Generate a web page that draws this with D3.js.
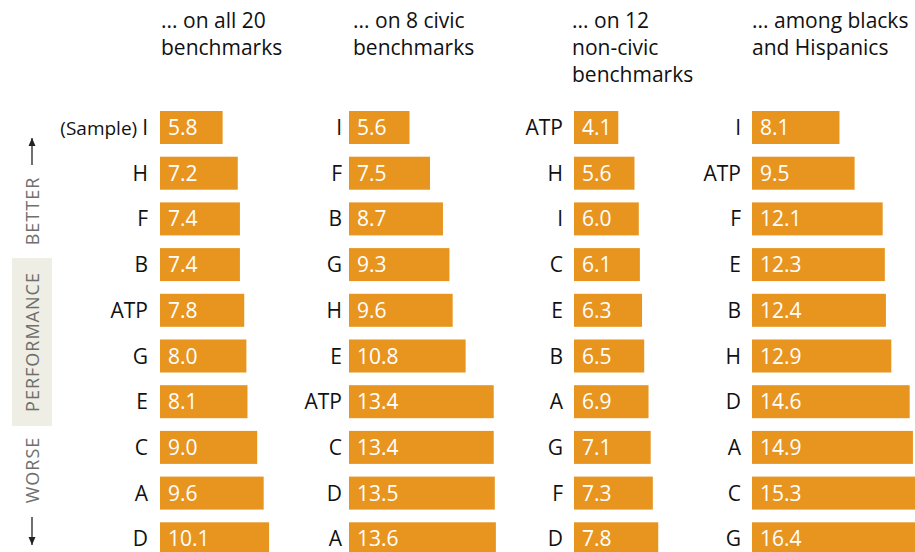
<!DOCTYPE html>
<html>
<head>
<meta charset="utf-8">
<script src="https://cdn.jsdelivr.net/npm/d3@7/dist/d3.min.js"></script>
<style>
  html, body { margin: 0; padding: 0; background: #fff; }
  svg { display: block; }
  text { font-family: "Open Sans", "Liberation Sans", sans-serif; }
</style>
</head>
<body>
<svg id="chart" width="915" height="552"></svg>
<script>
// ---- data ----
const titles = [
  ["... on all 20", "benchmarks"],
  ["... on 8 civic", "benchmarks"],
  ["... on 12", "non-civic", "benchmarks"],
  ["... among blacks", "and Hispanics"]
];
const labelsAll20   = ["I", "H", "F", "B", "ATP", "G", "E", "C", "A", "D"];
const valuesAll20   = [5.8, 7.2, 7.4, 7.4, 7.8, 8.0, 8.1, 9.0, 9.6, 10.1];
const labelsCivic   = ["I", "F", "B", "G", "H", "E", "ATP", "C", "D", "A"];
const valuesCivic   = [5.6, 7.5, 8.7, 9.3, 9.6, 10.8, 13.4, 13.4, 13.5, 13.6];
const labelsNonCivic = ["ATP", "H", "I", "C", "E", "B", "A", "G", "F", "D"];
const valuesNonCivic = [4.1, 5.6, 6.0, 6.1, 6.3, 6.5, 6.9, 7.1, 7.3, 7.8];
const labelsBlackHisp = ["I", "ATP", "F", "E", "B", "H", "D", "A", "C", "G"];
const valuesBlackHisp = [8.1, 9.5, 12.1, 12.3, 12.4, 12.9, 14.6, 14.9, 15.3, 16.4];
const sampleNote = "(Sample)";
const axisWords = ["BETTER", "PERFORMANCE", "WORSE"];

// ---- layout ----
const panels = [
  {labels: labelsAll20, values: valuesAll20, x0: 160, titleX: 161, labelGap: 12},
  {labels: labelsCivic, values: valuesCivic, x0: 349, titleX: 353, labelGap: 7},
  {labels: labelsNonCivic, values: valuesNonCivic, x0: 574, titleX: 572, labelGap: 11},
  {labels: labelsBlackHisp, values: valuesBlackHisp, x0: 752, titleX: 752, labelGap: 11}
];
const orange = "#e8951f";
const fs = 21;
const svg = d3.select("#chart");

const rowStep = 45.7, barH = 33, rowTop = 111;
const x = d3.scaleLinear().domain([0, 10]).range([0, 108]);
const y = d3.scaleBand().domain(d3.range(10))
  .range([rowTop, rowTop + 9 * rowStep + barH]).paddingInner(1 - barH / rowStep).paddingOuter(0);

panels.forEach((p, pi) => {
  const g = svg.append("g");
  // title
  const t = g.append("text").attr("x", p.titleX).attr("y", 28)
    .attr("font-size", fs).attr("fill", "#111");
  titles[pi].forEach((line, li) => {
    t.append("tspan").attr("x", p.titleX).attr("y", 28 + li * 27).text(line);
  });
  // bars
  g.selectAll("rect").data(p.values).join("rect")
    .attr("x", p.x0)
    .attr("y", (d, i) => y(i))
    .attr("width", d => x(d))
    .attr("height", y.bandwidth())
    .attr("fill", orange);
  // values
  g.selectAll("text.val").data(p.values).join("text").attr("class", "val")
    .attr("x", p.x0 + 8)
    .attr("y", (d, i) => y(i) + y.bandwidth() / 2 + 7.5)
    .attr("font-size", fs).attr("fill", "#fff")
    .text(d => d.toFixed(1));
  // labels
  const lab = g.selectAll("text.lab").data(p.labels).join("text").attr("class", "lab")
    .attr("x", p.x0 - p.labelGap)
    .attr("y", (d, i) => y(i) + y.bandwidth() / 2 + 7.5)
    .attr("text-anchor", "end")
    .attr("font-size", fs).attr("fill", "#111");
  lab.each(function(d, i) {
    const s = d3.select(this);
    if (pi === 0 && i === 0) {
      s.append("tspan").attr("font-size", 19).text(sampleNote + " ");
    }
    s.append("tspan").text(d);
  });
});

// ---- left performance axis ----
const ax = svg.append("g");
const cx = 32;
ax.append("rect").attr("x", 12).attr("y", 258).attr("width", 40).attr("height", 168).attr("fill", "#eeeee4");
const wordY = [211, 342, 470];
axisWords.forEach((w, i) => {
  ax.append("text")
    .attr("transform", `translate(${cx + 6.5},${wordY[i]}) rotate(-90)`)
    .attr("text-anchor", "middle")
    .attr("font-size", 18)
    .attr("letter-spacing", 1)
    .attr("fill", "#6f6f6f")
    .text(w);
});
// arrows
function arrow(y1, y2) {
  ax.append("line").attr("x1", cx).attr("x2", cx).attr("y1", y1).attr("y2", y2)
    .attr("stroke", "#222").attr("stroke-width", 1.3);
  const dir = y2 < y1 ? 1 : -1;
  ax.append("path")
    .attr("d", `M${cx},${y2} L${cx - 3.5},${y2 + dir * 8} L${cx + 3.5},${y2 + dir * 8} Z`)
    .attr("fill", "#222");
}
arrow(165, 138);
arrow(517, 545);
</script>
</body>
</html>
